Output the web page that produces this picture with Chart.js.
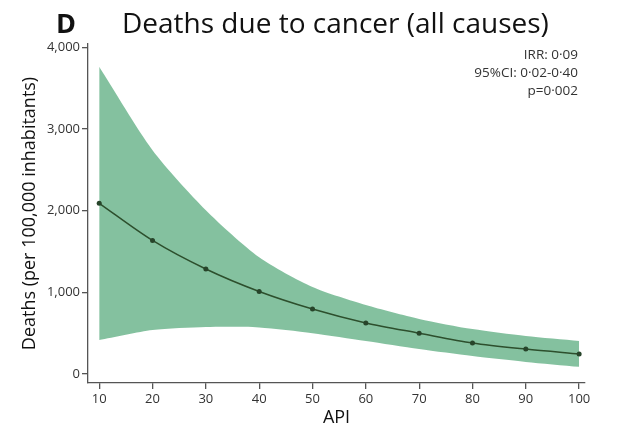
<!DOCTYPE html>
<html>
<head>
<meta charset="utf-8">
<script src="https://cdn.jsdelivr.net/npm/chart.js@4"></script>
<style>
  html, body { margin: 0; padding: 0; background: #fff; }
  #wrap { width: 619px; height: 432px; position: relative; }
</style>
</head>
<body>
<div id="wrap"><canvas id="cancerChart" width="619" height="432"></canvas></div>
<script>
// --- Data ---
const apiValues = [10, 20, 30, 40, 50, 60, 70, 80, 90, 100];
const deathsMean = [2090, 1635, 1285, 1010, 795, 625, 500, 380, 305, 245];
const deathsUpper = [3760, 2740, 2005, 1430, 1065, 845, 675, 550, 465, 405];
const deathsLower = [415, 538, 575, 570, 500, 405, 306, 220, 148, 88];
const yTickValues = [0, 1000, 2000, 3000, 4000];
const xTickValues = [10, 20, 30, 40, 50, 60, 70, 80, 90, 100];
const statLines = ['IRR: 0\u00b709', '95%CI: 0\u00b702-0\u00b740', 'p=0\u00b7002'];

const FONT = '"Open Sans", "Liberation Sans", sans-serif';
const AXIS_COLOR = '#555';
const TICK_TEXT = '#333';

function toPoints(values) {
    return apiValues.map(function(x, i) { return { x: x, y: values[i] }; });
}

// Title, panel letter and the stats box in the top right
const headerPlugin = {
    id: 'header',
    afterDraw: function(chart) {
        const ctx = chart.ctx;
        ctx.save();
        ctx.fillStyle = '#111';
        ctx.textBaseline = 'alphabetic';
        ctx.textAlign = 'left';
        ctx.font = 'bold 27px ' + FONT;
        ctx.fillText('D', 56, 33);
        ctx.font = '28px ' + FONT;
        ctx.fillText('Deaths due to cancer (all causes)', 122, 33);

        ctx.font = '13.5px ' + FONT;
        ctx.fillStyle = '#333';
        ctx.textAlign = 'right';
        statLines.forEach(function(line, i) {
            ctx.fillText(line, 578, 59 + i * 18);
        });
        ctx.restore();
    }
};

const ctx = document.getElementById('cancerChart').getContext('2d');
new Chart(ctx, {
    type: 'line',
    data: {
        datasets: [
            // mean line first so it is drawn on top of the band
            {
                label: 'Deaths',
                data: toPoints(deathsMean),
                borderColor: '#2d4f2d',
                borderWidth: 1.5,
                pointRadius: 2.5,
                pointBackgroundColor: '#27442a',
                pointBorderWidth: 0,
                fill: false,
                tension: 0.3
            },
            {
                label: 'Upper 95% CI',
                data: toPoints(deathsUpper),
                borderWidth: 0,
                pointRadius: 0,
                backgroundColor: 'rgba(111, 182, 142, 0.85)',
                fill: '+1',
                tension: 0.25
            },
            {
                label: 'Lower 95% CI',
                data: toPoints(deathsLower),
                borderWidth: 0,
                pointRadius: 0,
                fill: false,
                tension: 0.25
            }
        ]
    },
    options: {
        responsive: false,
        animation: false,
        layout: { padding: { left: 0, top: 44, right: 34, bottom: 0 } },
        plugins: {
            legend: { display: false },
            tooltip: { enabled: false },
            title: { display: false }
        },
        scales: {
            x: {
                type: 'linear',
                min: 7.9,
                max: 101.1,
                afterBuildTicks: function(scale) {
                    scale.ticks = xTickValues.map(function(v) { return { value: v }; });
                },
                afterFit: function(scale) { scale.height = 49; },
                border: { display: true, color: AXIS_COLOR, width: 1.3 },
                grid: { display: true, drawOnChartArea: false, tickLength: 6, color: AXIS_COLOR, lineWidth: 1.3 },
                ticks: {
                    color: TICK_TEXT,
                    padding: 2,
                    maxRotation: 0,
                    font: { family: FONT, size: 13 }
                },
                title: {
                    display: true,
                    text: 'API',
                    color: '#111',
                    padding: { top: 2, bottom: 3 },
                    font: { family: FONT, size: 18 }
                }
            },
            y: {
                min: -110,
                max: 4040,
                afterBuildTicks: function(scale) {
                    scale.ticks = yTickValues.map(function(v) { return { value: v }; });
                },
                afterFit: function(scale) { scale.width = 88; },
                border: { display: true, color: AXIS_COLOR, width: 1.3 },
                grid: { display: true, drawOnChartArea: false, tickLength: 6, color: AXIS_COLOR, lineWidth: 1.3 },
                ticks: {
                    color: TICK_TEXT,
                    padding: 2,
                    font: { family: FONT, size: 13 },
                    callback: function(v) { return v.toLocaleString('en-US'); }
                },
                title: {
                    display: true,
                    text: 'Deaths (per 100,000 inhabitants)',
                    color: '#111',
                    padding: { top: 19, bottom: 2 },
                    font: { family: FONT, size: 18 }
                }
            }
        }
    },
    plugins: [headerPlugin]
});
</script>
</body>
</html>
